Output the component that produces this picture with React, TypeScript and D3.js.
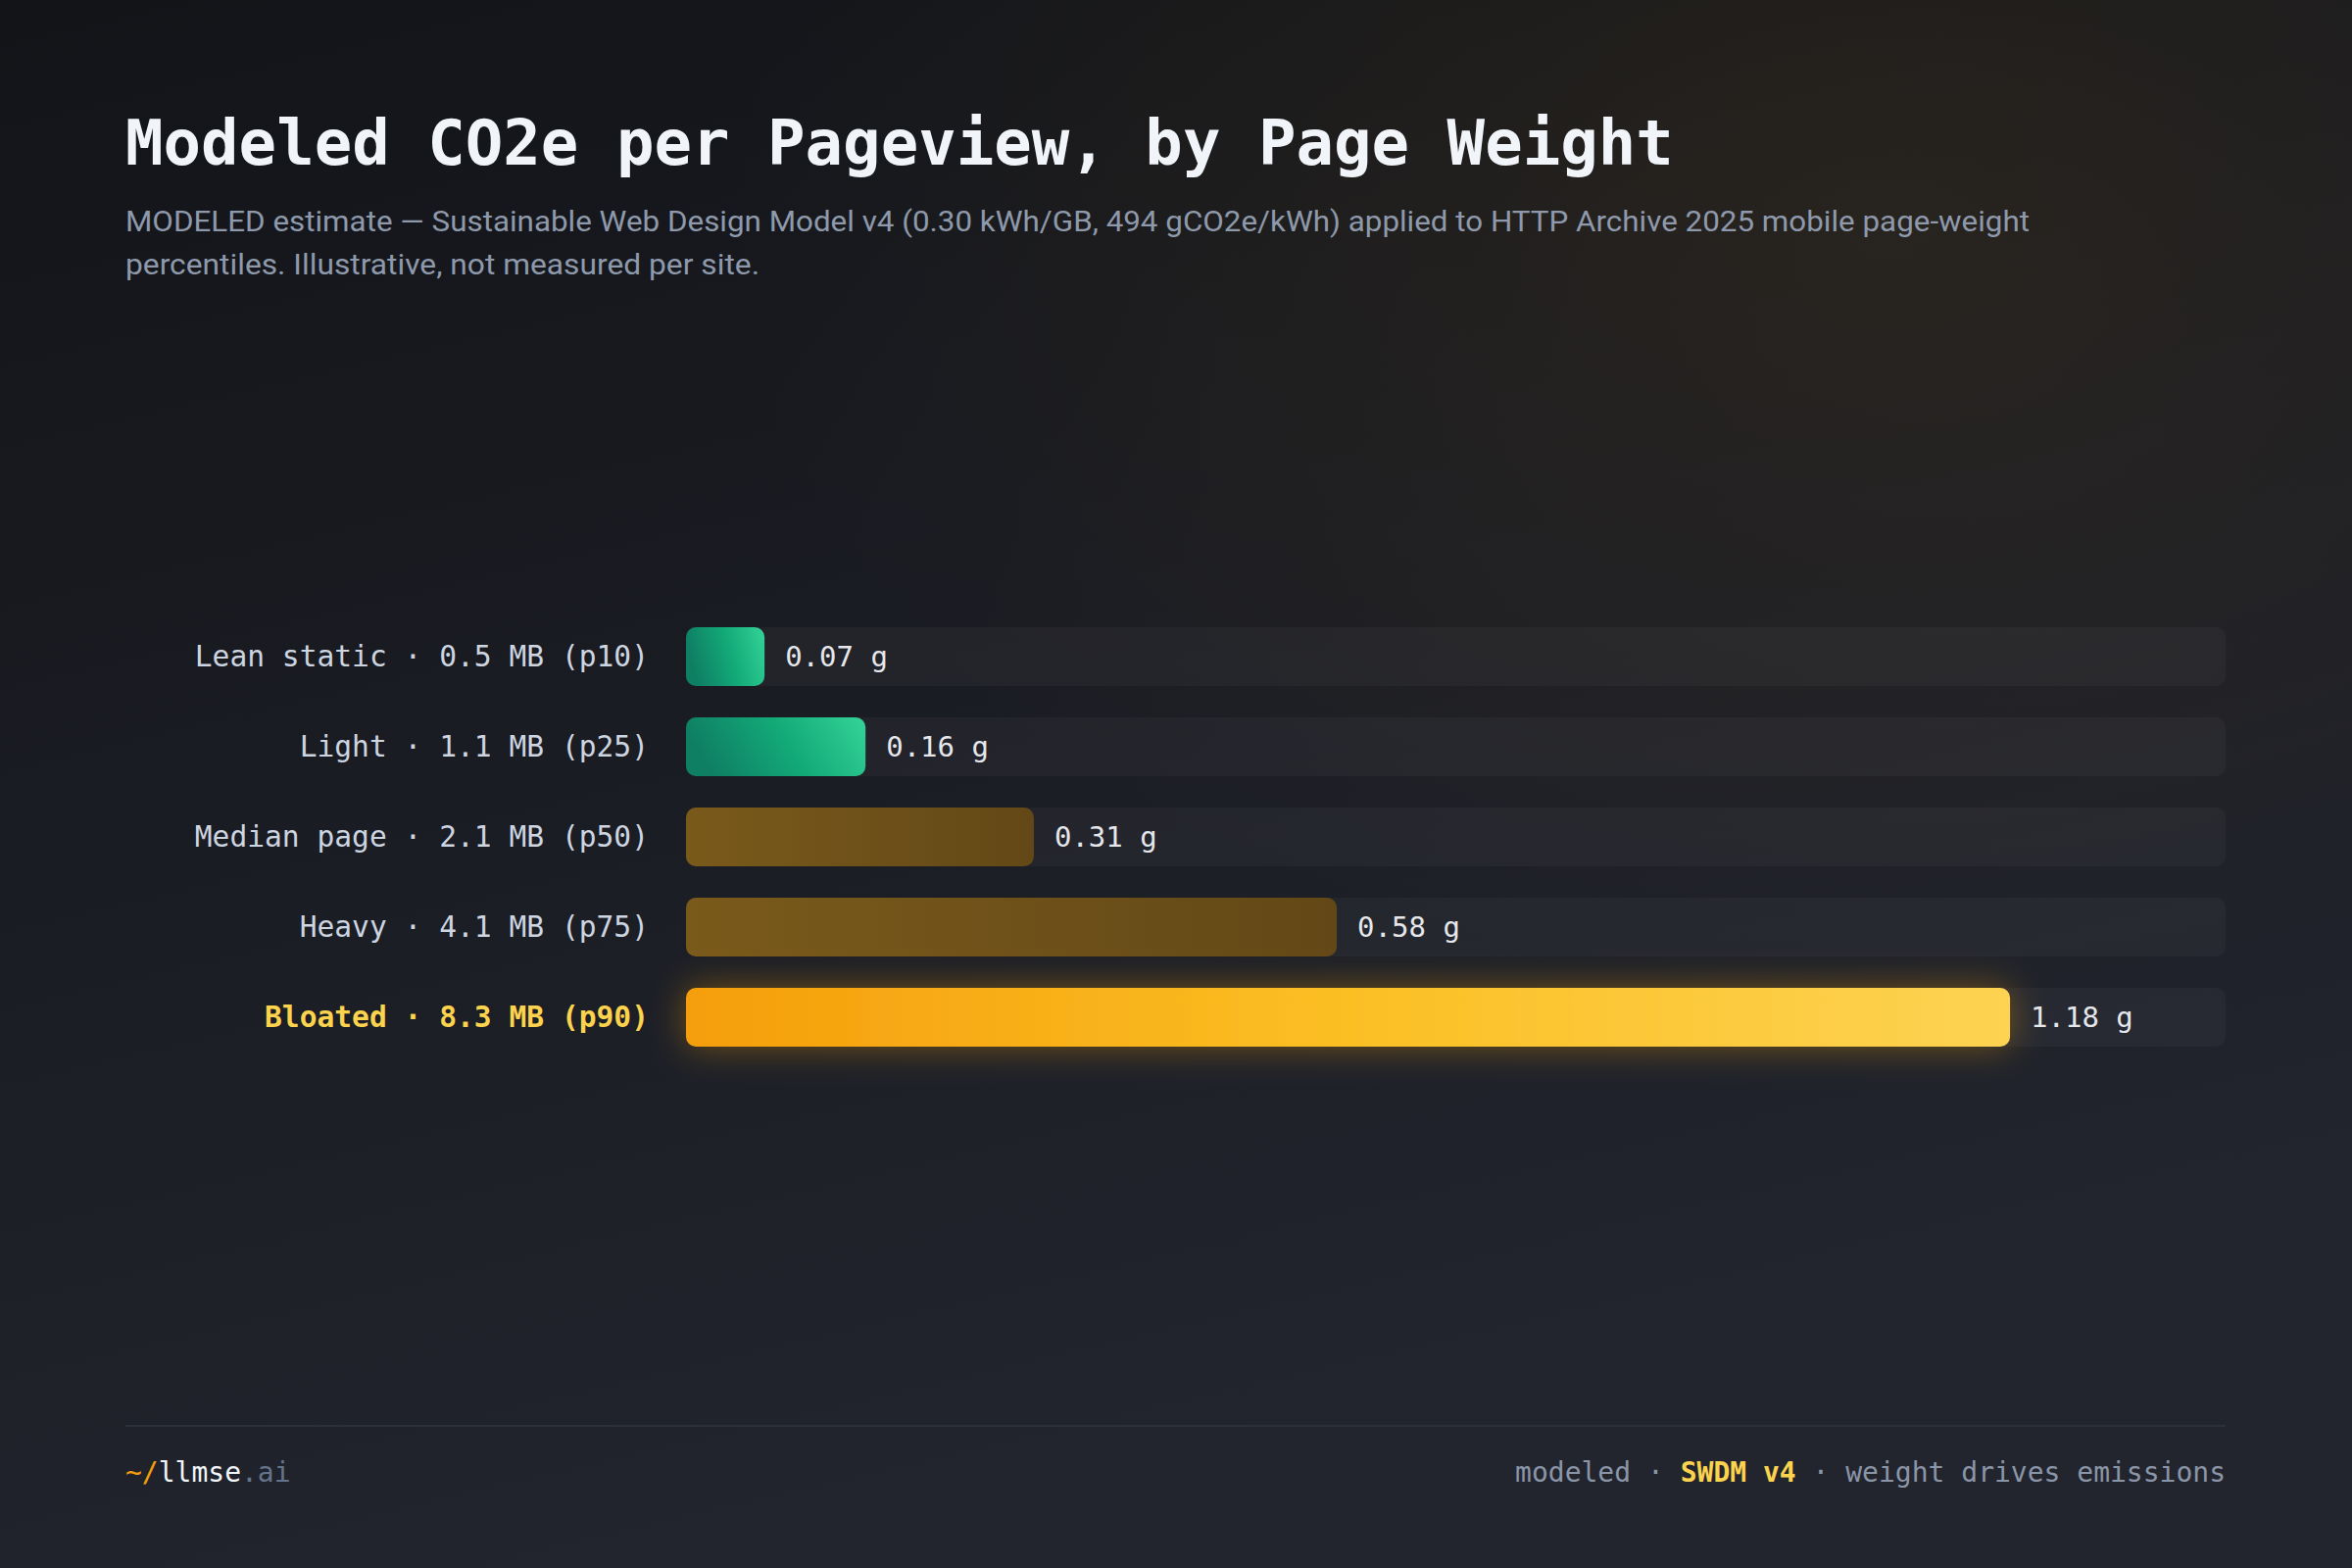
import { useRef, useEffect } from 'react';
import * as d3 from 'd3';

const WIDTH = 2400;
const HEIGHT = 1600;

const categories = ['Lean static', 'Light', 'Median page', 'Heavy', 'Bloated'];
const pageWeightsMB = [0.5, 1.1, 2.1, 4.1, 8.3];
const percentiles = ['p10', 'p25', 'p50', 'p75', 'p90'];
const co2Grams = [0.07, 0.16, 0.31, 0.58, 1.18];
const tiers = ['low', 'low', 'mid', 'mid', 'high'];

const TITLE = 'Modeled CO2e per Pageview, by Page Weight';
const SUBTITLE_LINES = [
  'MODELED estimate \u2014 Sustainable Web Design Model v4 (0.30 kWh/GB, 494 gCO2e/kWh) applied to HTTP Archive 2025 mobile page-weight',
  'percentiles. Illustrative, not measured per site.',
];
const FOOTER_RIGHT = [
  { text: 'modeled', kind: 'muted' },
  { text: ' \u00b7 ', kind: 'muted' },
  { text: 'SWDM v4', kind: 'accent' },
  { text: ' \u00b7 ', kind: 'muted' },
  { text: 'weight drives emissions', kind: 'muted' },
];

const MONO = '"DejaVu Sans Mono", "Liberation Mono", monospace';
const SANS = 'Roboto, "Noto Sans", sans-serif';

export default function App() {
  const svgRef = useRef<SVGSVGElement>(null);

  useEffect(() => {
    document.body.style.margin = '0';
    const svg = svgRef.current;
    if (!svg) return;

    const root = d3.select(svg);
    root.selectAll('*').remove();
    root.attr('width', WIDTH).attr('height', HEIGHT).attr('viewBox', `0 0 ${WIDTH} ${HEIGHT}`);

    const defs = root.append('defs');

    // background
    const bg = defs.append('linearGradient').attr('id', 'bg')
      .attr('x1', 0).attr('y1', 0).attr('x2', 0.35).attr('y2', 1);
    bg.append('stop').attr('offset', '0%').attr('stop-color', '#121418');
    bg.append('stop').attr('offset', '55%').attr('stop-color', '#1b1d24');
    bg.append('stop').attr('offset', '100%').attr('stop-color', '#22252e');

    const warm = defs.append('radialGradient').attr('id', 'warm')
      .attr('cx', 0.8).attr('cy', 0.14).attr('r', 0.5);
    warm.append('stop').attr('offset', '0%').attr('stop-color', '#f59e0b').attr('stop-opacity', 0.07);
    warm.append('stop').attr('offset', '100%').attr('stop-color', '#f59e0b').attr('stop-opacity', 0);

    const gLow = defs.append('linearGradient').attr('id', 'bar-low')
      .attr('x1', 0).attr('y1', 0.2).attr('x2', 1).attr('y2', 0);
    gLow.append('stop').attr('offset', '0%').attr('stop-color', '#0f7f64');
    gLow.append('stop').attr('offset', '50%').attr('stop-color', '#13aa78');
    gLow.append('stop').attr('offset', '100%').attr('stop-color', '#34d399');

    const gMid = defs.append('linearGradient').attr('id', 'bar-mid')
      .attr('x1', 0).attr('y1', 0).attr('x2', 1).attr('y2', 0);
    gMid.append('stop').attr('offset', '0%').attr('stop-color', '#7a5a1b');
    gMid.append('stop').attr('offset', '100%').attr('stop-color', '#634817');

    const gHigh = defs.append('linearGradient').attr('id', 'bar-high')
      .attr('x1', 0).attr('y1', 0).attr('x2', 1).attr('y2', 0);
    gHigh.append('stop').attr('offset', '0%').attr('stop-color', '#f59e0b');
    gHigh.append('stop').attr('offset', '50%').attr('stop-color', '#fbbf24');
    gHigh.append('stop').attr('offset', '100%').attr('stop-color', '#fdd352');

    const glow = defs.append('filter').attr('id', 'glow')
      .attr('x', '-10%').attr('y', '-100%').attr('width', '120%').attr('height', '300%');
    glow.append('feDropShadow').attr('dx', 0).attr('dy', 0).attr('stdDeviation', 18)
      .attr('flood-color', '#f59e0b').attr('flood-opacity', 0.4);

    root.append('rect').attr('width', WIDTH).attr('height', HEIGHT).attr('fill', 'url(#bg)');
    root.append('rect').attr('width', WIDTH).attr('height', HEIGHT).attr('fill', 'url(#warm)');

    // Title + subtitle
    root.append('text')
      .attr('x', 128).attr('y', 168)
      .attr('fill', '#f1f5f9')
      .attr('font-family', MONO)
      .attr('font-weight', 700)
      .attr('font-size', '64px')
      .text(TITLE);

    const subLengths = [1943, 647];
    SUBTITLE_LINES.forEach((line, i) => {
      root.append('text')
        .attr('x', 128).attr('y', 236 + i * 44)
        .attr('fill', '#8e99ab')
        .attr('font-family', SANS)
        .attr('font-size', '29px')
        .attr('textLength', subLengths[i])
        .attr('lengthAdjust', 'spacingAndGlyphs')
        .text(line);
    });

    // Scales
    const xScale = d3.scaleLinear()
      .domain([0, d3.max(co2Grams)! / 0.86])
      .range([700, 2271]);

    const yScale = d3.scaleBand<string>()
      .domain(categories)
      .range([640, 1068])
      .paddingInner(0.348)
      .paddingOuter(0);

    const bh = yScale.bandwidth();
    const fillFor: Record<string, string> = { low: 'url(#bar-low)', mid: 'url(#bar-mid)', high: 'url(#bar-high)' };

    categories.forEach((cat, i) => {
      const y = yScale(cat)!;
      const cy = y + bh / 2;
      const x0 = xScale(0);
      const x1 = xScale(co2Grams[i]);
      const hi = tiers[i] === 'high';

      // track
      root.append('rect')
        .attr('x', x0).attr('y', y)
        .attr('width', xScale.range()[1] - x0).attr('height', bh)
        .attr('rx', 10)
        .attr('fill', '#ffffff').attr('fill-opacity', 0.035);

      // bar
      root.append('rect')
        .attr('x', x0).attr('y', y)
        .attr('width', x1 - x0).attr('height', bh)
        .attr('rx', 10)
        .attr('fill', fillFor[tiers[i]])
        .attr('filter', hi ? 'url(#glow)' : null);

      // category label
      root.append('text')
        .attr('x', 662).attr('y', cy)
        .attr('dy', '0.35em')
        .attr('text-anchor', 'end')
        .attr('fill', hi ? '#fcd34d' : '#cdd5e0')
        .attr('font-family', MONO)
        .attr('font-weight', hi ? 700 : 400)
        .attr('font-size', '29.6px')
        .text(`${cat} \u00b7 ${pageWeightsMB[i].toFixed(1)} MB (${percentiles[i]})`);

      // value label
      root.append('text')
        .attr('x', x1 + 21).attr('y', cy)
        .attr('dy', '0.35em')
        .attr('fill', '#e5e7eb')
        .attr('font-family', MONO)
        .attr('font-size', '29px')
        .text(`${co2Grams[i].toFixed(2)} g`);
    });

    // Footer
    root.append('line')
      .attr('x1', 128).attr('x2', 2271)
      .attr('y1', 1455).attr('y2', 1455)
      .attr('stroke', '#2c303b').attr('stroke-width', 2);

    const brand = root.append('text')
      .attr('x', 128).attr('y', 1512)
      .attr('font-family', MONO)
      .attr('font-size', '28px');
    brand.append('tspan').attr('fill', '#f59e0b').text('~/');
    brand.append('tspan').attr('fill', '#f1f5f9').text('llmse');
    brand.append('tspan').attr('fill', '#64748b').text('.ai');

    const right = root.append('text')
      .attr('x', 2271).attr('y', 1512)
      .attr('text-anchor', 'end')
      .attr('font-family', MONO)
      .attr('font-size', '28px')
      .attr('xml:space', 'preserve')
      .style('white-space', 'pre');
    FOOTER_RIGHT.forEach((part) => {
      right.append('tspan')
        .attr('fill', part.kind === 'accent' ? '#fcd34d' : '#8b95a8')
        .attr('font-weight', part.kind === 'accent' ? 700 : 400)
        .text(part.text);
    });
  }, []);

  return (
    <svg
      ref={svgRef}
      style={{ display: 'block', position: 'absolute', top: 0, left: 0 }}
    />
  );
}
